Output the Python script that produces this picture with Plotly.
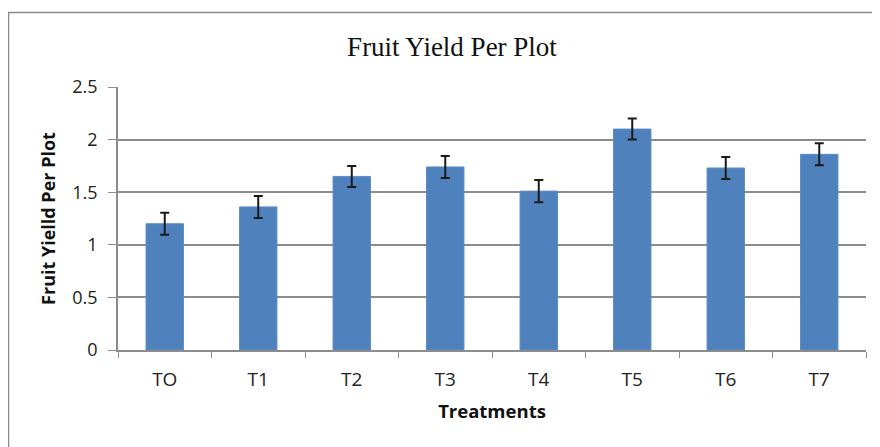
import plotly.graph_objects as go

treatments = ["TO", "T1", "T2", "T3", "T4", "T5", "T6", "T7"]
yield_per_plot = [1.20, 1.36, 1.65, 1.74, 1.51, 2.10, 1.73, 1.86]
error = [0.105, 0.105, 0.10, 0.105, 0.105, 0.10, 0.105, 0.105]
y_ticks = [0, 0.5, 1, 1.5, 2, 2.5]
y_tick_labels = ["0", "0.5", "1", "1.5", "2", "2.5"]

# The page body has an 8px default margin; compensate so the plot area
# lands at x 118..866, y 87..350 in the window.
OFF = 8
W, H = 880, 447
l, r, t, b = 118 - OFF, 14 + OFF, 87 - OFF, 97 + OFF
pw, ph = W - l - r, H - t - b


def px(xp):
    return (xp - OFF - l) / pw


def py(yp):
    return (H - b - (yp - OFF)) / ph


fig = go.Figure(go.Bar(
    x=treatments, y=yield_per_plot,
    marker=dict(color="#4F81BD", line=dict(color="#5B8BC6", width=1)),
    error_y=dict(type="data", array=error, visible=True,
                 color="#1a1a1a", thickness=2, width=4.5),
    width=0.4,
))

fig.update_layout(
    width=W, height=H,
    margin=dict(l=l, r=r, t=t, b=b),
    paper_bgcolor="white", plot_bgcolor="white",
    showlegend=False,
    title=dict(text="Fruit Yield Per Plot", x=px(452), xref="paper", xanchor="center",
               y=1 - (47 - OFF) / H, yanchor="middle",
               font=dict(family="Liberation Serif", size=27, color="#111")),
    font=dict(family="Open Sans", color="#222"),
    shapes=[dict(type="rect", xref="paper", yref="paper",
                 x0=px(8.5), x1=px(900), y0=py(12.5), y1=py(470),
                 line=dict(color="#8a8a8a", width=1.5), layer="below")],
)

fig.update_xaxes(
    showline=True, linecolor="#8c8c8c", linewidth=1.5,
    ticks="outside", tickson="boundaries", ticklen=6, tickcolor="#8c8c8c", tickwidth=1.2,
    tickfont=dict(family="Open Sans", size=19, color="#222"),
    ticklabelstandoff=11,
    title=dict(text="<b>Treatments</b>", font=dict(family="Open Sans", size=18.5, color="#111"),
               standoff=15),
    showgrid=False,
)
fig.update_yaxes(
    range=[0, 2.5], tickvals=y_ticks, ticktext=y_tick_labels,
    showline=True, linecolor="#8c8c8c", linewidth=1.5,
    ticks="outside", ticklen=8, tickcolor="#8c8c8c", tickwidth=1.2,
    showgrid=True, gridcolor="#8c8c8c", gridwidth=1.5,
    tickfont=dict(family="Open Sans", size=18, color="#222"),
    ticklabelstandoff=7,
    title=dict(text="<b>Fruit Yielld Per Plot</b>",
               font=dict(family="Open Sans", size=18, color="#111"), standoff=12),
    zeroline=False,
)

fig.write_html("out.html")
